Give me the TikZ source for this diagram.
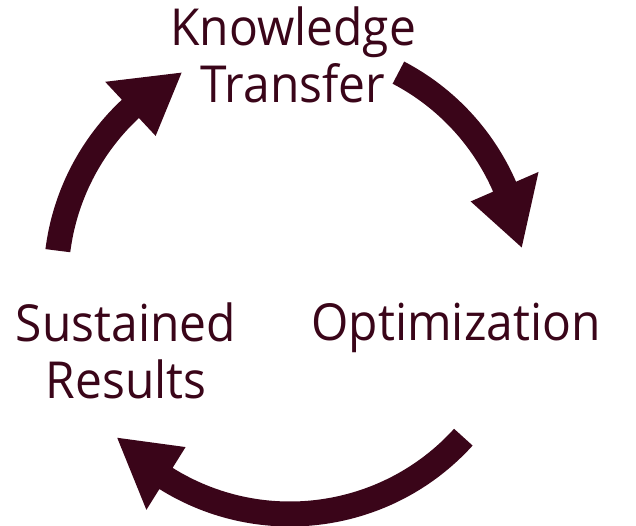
\documentclass[tikz,border=0pt]{standalone}
\usepackage{fontspec}
\setmainfont{Open Sans}[FakeStretch=0.94]
\definecolor{maroon}{HTML}{3A0519}
\begin{document}
\begin{tikzpicture}[x=1pt,y=1pt,
  label/.style={text=maroon, align=center, inner sep=0pt,
    font=\fontsize{51}{57}\selectfont},
  cyc/.style={fill=maroon}]
\useasboundingbox (-290,-245) rectangle (346,280);
% ring geometry: mid radius, half shaft width, half head width
\def\R{234}\def\w{12.5}\def\h{37}
% clockwise arrow: start angle, head base angle, tip angle
\newcommand\cycarrow[3]{%
  \fill[cyc] (#1:\R+\w) arc[start angle=#1, end angle=#2, radius=\R+\w]
    -- (#2:\R+\h) -- (#3:\R) -- (#2:\R-\h) -- (#2:\R-\w)
    arc[start angle=#2, end angle=#1, radius=\R-\w] -- cycle;}
\cycarrow{62.4}{23.5}{8}
\cycarrow{-42.2}{-122}{-137.6}
\cycarrow{172.8}{133}{117.6}
% anchor=base sits on the last line's baseline
\node[label, anchor=base] (kt) at (3,177) {Knowledge\\Transfer};
\node[label, anchor=base] (opt) at (166,-60) {Optimization};
\node[label, anchor=base] (sr) at (-164,-118) {Sustained\\Results};
\end{tikzpicture}
\end{document}
